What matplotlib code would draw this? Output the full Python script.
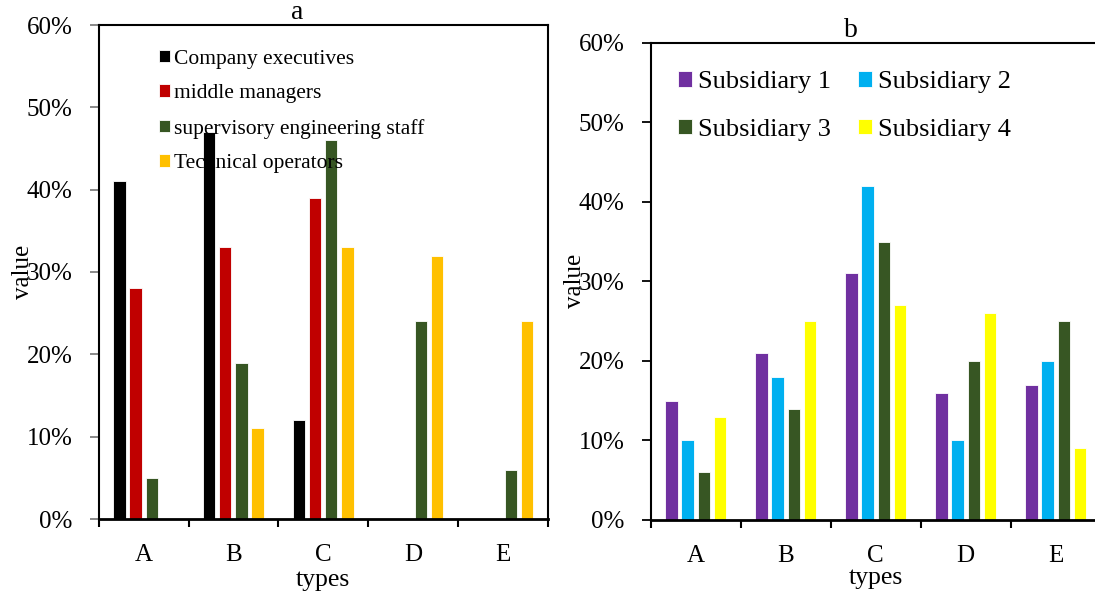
import numpy as np
import matplotlib
matplotlib.use("Agg")
import matplotlib.pyplot as plt
from matplotlib.ticker import PercentFormatter, FixedLocator, NullFormatter

plt.rcParams['font.family'] = ['Liberation Serif', 'DejaVu Serif']

# data
types = ['A', 'B', 'C', 'D', 'E']

roles = ['Company executives', 'middle managers',
         'supervisory engineering staff', 'Technical operators']
executives = [41, 47, 12, 0, 0]
middle = [28, 33, 39, 0, 0]
supervisory = [5, 19, 46, 24, 6]
operators = [0, 11, 33, 32, 24]
role_colors = ['#000000', '#C00000', '#375623', '#FFC000']

subs = ['Subsidiary 1', 'Subsidiary 2', 'Subsidiary 3', 'Subsidiary 4']
sub1 = [15, 21, 31, 16, 17]
sub2 = [10, 18, 42, 10, 20]
sub3 = [6, 14, 35, 20, 25]
sub4 = [13, 25, 27, 26, 9]
sub_colors = ['#7030A0', '#00B0F0', '#375623', '#FFFF00']

W, H = 1095, 594
fig = plt.figure(figsize=(W / 100, H / 100), dpi=100)

# axes rects from pixel boxes (left, top, right, bottom)
def px_axes(l, t, r, b):
    return fig.add_axes([l / W, (H - b) / H, (r - l) / W, (b - t) / H])

ax_a = px_axes(98.7, 25, 547.7, 519)
ax_b = px_axes(650.7, 42.7, 1100.7, 520)

x = np.arange(len(types))
step, bw = 0.18, 0.137


def style_axes(ax, tcolor):
    ax.set_xlim(-0.5, len(types) - 0.5)
    ax.set_ylim(0, 60)
    ax.set_yticks(range(0, 61, 10))
    ax.yaxis.set_major_formatter(PercentFormatter(decimals=0))
    ax.tick_params(axis='y', direction='out', length=6.3, width=1.3,
                   color=tcolor, labelsize=18, pad=12.5)
    # tick marks between categories, labels at category centres
    ax.xaxis.set_major_locator(FixedLocator(np.arange(-0.5, len(types), 1.0)))
    ax.xaxis.set_major_formatter(NullFormatter())
    ax.xaxis.set_minor_locator(FixedLocator(x))
    ax.set_xticklabels(types, minor=True)
    ax.tick_params(axis='x', which='major', direction='out', length=6, width=1.5)
    ax.tick_params(axis='x', which='minor', length=0, labelsize=18, pad=18)
    for s in ax.spines.values():
        s.set_linewidth(1.5)
    ax.spines['bottom'].set_linewidth(2)
    ax.set_xlabel('types', fontsize=18.5, va='center')
    ax.set_ylabel('value', fontsize=18, va='center', ha='center')


# panel a
vals_a = [executives, middle, supervisory, operators]
for i, (name, v, c) in enumerate(zip(roles, vals_a, role_colors)):
    ax_a.bar(x + (i - 1.5) * step, v, bw, color=c, edgecolor='white',
             linewidth=0.6, label=name)
style_axes(ax_a, '#7f7f7f')
ax_a.xaxis.set_label_coords(0.5, (519 - 580) / 494)
ax_a.yaxis.set_label_coords((23 - 98.7) / 449, 0.5)
ax_a.set_title('a', x=0.441, pad=0, fontsize=20)
ax_a.legend(loc='upper left', bbox_to_anchor=(0.134, 0.95), frameon=False,
            fontsize=15.5, handlelength=0.5, handleheight=0.5,
            handletextpad=0.2, labelspacing=0.72, borderpad=0,
            borderaxespad=0)

# panel b
vals_b = [sub1, sub2, sub3, sub4]
bars_b = []
for i, (name, v, c) in enumerate(zip(subs, vals_b, sub_colors)):
    bars_b.append(ax_b.bar(x + (i - 1.5) * step, v, bw, color=c,
                           edgecolor='white', linewidth=0.6, label=name))
style_axes(ax_b, '#000000')
ax_b.xaxis.set_label_coords(0.5, (520 - 578) / 477.3)
ax_b.yaxis.set_label_coords((575 - 650.7) / 450, 0.5)
ax_b.set_title('b', x=0.444, pad=0, fontsize=20)
# legend fills column-wise, so reorder to get 1 2 / 3 4 in rows
order = [0, 2, 1, 3]
ax_b.legend([bars_b[k] for k in order], [subs[k] for k in order],
            loc='upper left', bbox_to_anchor=(0.0607, 0.94), frameon=False,
            ncol=2, fontsize=19, handlelength=0.53, handleheight=0.53,
            handletextpad=0.22, labelspacing=0.95, columnspacing=1.03,
            borderpad=0, borderaxespad=0)

fig.savefig('out.png', dpi=100)
